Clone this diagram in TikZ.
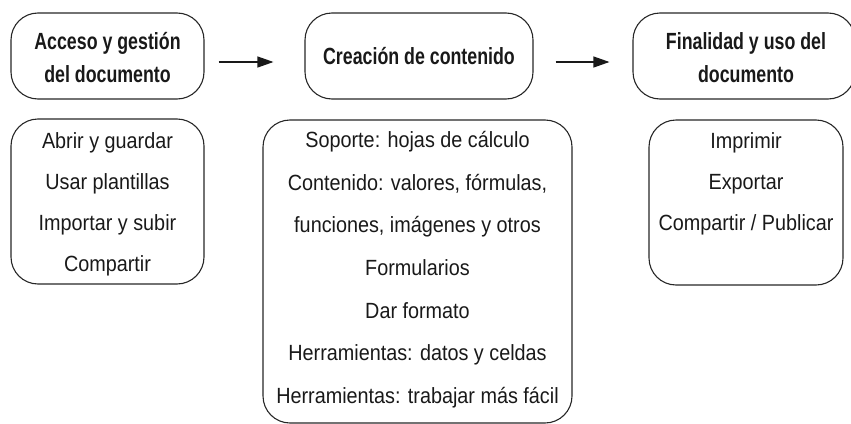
\documentclass[tikz,border=0pt]{standalone}
\usepackage{fontspec}
\setmainfont{Liberation Sans}[FakeStretch=0.9]
\newfontfamily\titlefont{Liberation Sans}[FakeStretch=0.76]
\usetikzlibrary{arrows.meta}
\begin{document}
\begin{tikzpicture}[x=1pt,y=-1pt,
  box/.style={draw=black!85, line width=1.1pt, rounded corners=27pt, inner sep=0pt},
  ttl/.style={font=\titlefont\bfseries\fontsize{23.4}{26}\selectfont, anchor=base, text=black!90, inner sep=0pt},
  itm/.style={font=\fontsize{22}{24}\selectfont, anchor=base, text=black!90, inner sep=0pt},
  arr/.style={-{Triangle[length=16pt,width=11pt]}, line width=1.1pt, draw=black!90}]
\useasboundingbox (0,0) rectangle (851,423);
% top boxes
\node[box, minimum width=193pt, minimum height=86pt] (b1) at (107.5,56) {};
\node[box, minimum width=228pt, minimum height=86pt] (b2) at (419,56) {};
\node[box, minimum width=222pt, minimum height=86pt] (b3) at (744,56) {};
% bottom boxes
\node[box, minimum width=193pt, minimum height=165pt] (b4) at (107.5,201.5) {};
\node[box, minimum width=309pt, minimum height=303pt] (b5) at (417.5,271.5) {};
\node[box, minimum width=194pt, minimum height=165pt] (b6) at (746,202.5) {};
% titles
\node[ttl] (t1a) at (107.5,49) {Acceso y gestión};
\node[ttl] (t1b) at (107.5,82) {del documento};
\node[ttl] (t2a) at (419,64) {Creación de contenido};
\node[ttl] (t3a) at (746,49) {Finalidad y uso del};
\node[ttl] (t3b) at (746,82) {documento};
% arrows
\draw[arr, shorten <=14pt, shorten >=31pt] ([yshift=-6pt]b1.east) -- ([yshift=-6pt]b2.west);
\draw[arr, shorten <=22pt, shorten >=23pt] ([yshift=-6pt]b2.east) -- ([yshift=-6pt]b3.west);
% items box 4
\node[itm] (i4a) at (107.5,148) {Abrir y guardar};
\node[itm] (i4b) at (107.5,189) {Usar plantillas};
\node[itm] (i4c) at (107.5,230) {Importar y subir};
\node[itm] (i4d) at (107.5,271) {Compartir};
% items box 5
\node[itm] (i5a) at (417.5,147) {Soporte: hojas de cálculo};
\node[itm] (i5b) at (417.5,190) {Contenido: valores, fórmulas,};
\node[itm] (i5c) at (417.5,232) {funciones, imágenes y otros};
\node[itm] (i5d) at (417.5,275) {Formularios};
\node[itm] (i5e) at (417.5,318) {Dar formato};
\node[itm] (i5f) at (417.5,360) {Herramientas: datos y celdas};
\node[itm] (i5g) at (417.5,403) {Herramientas: trabajar más fácil};
% items box 6
\node[itm] (i6a) at (746,148) {Imprimir};
\node[itm] (i6b) at (746,189) {Exportar};
\node[itm] (i6c) at (746,230) {Compartir / Publicar};
\end{tikzpicture}
\end{document}
